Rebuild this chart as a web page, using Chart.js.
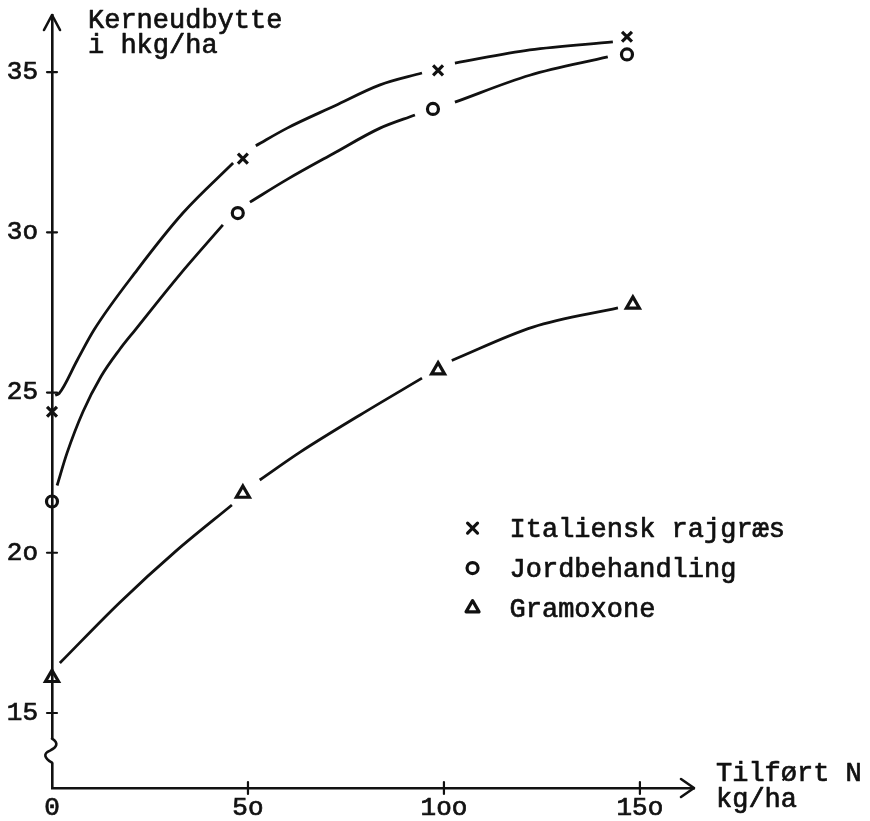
<!DOCTYPE html>
<html>
<head>
<meta charset="utf-8">
<script src="https://cdn.jsdelivr.net/npm/chart.js@4.4.1/dist/chart.umd.min.js"></script>
<style>
  html, body { margin: 0; padding: 0; background: #ffffff; }
  #wrap { width: 870px; height: 821px; }
</style>
</head>
<body>
<div id="wrap"><canvas id="c" width="870" height="821"></canvas></div>
<script>
// ---------- data ----------
const seriesNames = ['Italiensk rajgræs', 'Jordbehandling', 'Gramoxone'];

const yTickValues = [15, 20, 25, 30, 35];
const yTickLabels = ['15', '2o', '25', '3o', '35'];
const xTickValues = [0, 50, 100, 150];
const xTickLabels = ['0', '5o', '1oo', '15o'];

const yTitleLines = ['Kerneudbytte', 'i hkg/ha'];
const xTitleLines = ['Tilført N', 'kg/ha'];

// observed points (markers)
const italienskX = [0, 48.7, 98.5, 146.7];
const italienskY = [24.4, 32.3, 35.05, 36.1];
const jordX = [0, 47.4, 97.2, 146.7];
const jordY = [21.6, 30.6, 33.85, 35.55];
const gramX = [0, 48.7, 98.5, 148.2];
const gramY = [16.1, 21.85, 25.7, 27.75];

// hand-drawn fitted curves; null = gap left around a marker
const italienskCurveX = [0.8, 1.8, 6.4, 10.7, 21.7, 33.4, 46.2, null, 52, 60, 72.2, 83.7, 94.4, null, 102.8, 121.9, 143.1];
const italienskCurveY = [24.92, 24.97, 26.0, 26.95, 28.82, 30.6, 32.16, null, 32.7, 33.25, 33.95, 34.6, 34.97, null, 35.28, 35.69, 35.94];
const jordCurveX = [1.3, 3.8, 7.9, 12.5, 17.3, 21.2, 32.4, 43.6, null, 50.5, 60, 71.7, 83.7, 92.6, null, 102.8, 121.9, 141.8];
const jordCurveY = [22.1, 23.1, 24.4, 25.5, 26.35, 26.95, 28.65, 30.23, null, 30.94, 31.65, 32.45, 33.25, 33.66, null, 34.06, 34.9, 35.47];
const gramCurveX = [2.0, 17.3, 31.6, 45.9, null, 53, 63.3, 78.6, 94.4, null, 102, 122.7, 144.4];
const gramCurveY = [16.56, 18.45, 20.05, 21.49, null, 22.27, 23.14, 24.3, 25.45, null, 26.0, 27.04, 27.64];

// axis extents and the break in the y axis (in data units)
const xRange = [0, 163.8];
const yRange = [12.66, 36.78];
const yAxisBreak = [13.45, 14.2];

// ---------- building ----------
const INK = '#111111';
const FONT = '"Liberation Mono", "Courier New", monospace';

function pts(xs, ys) {
  const out = [];
  let lastX = 0;
  for (let i = 0; i < xs.length; i++) {
    const xv = xs[i] === null ? lastX : xs[i];
    lastX = xv;
    out.push({ x: xv, y: ys[i] });
  }
  return out;
}

function curveDs(xs, ys) {
  return {
    data: pts(xs, ys),
    showLine: true,
    borderColor: INK,
    borderWidth: 2.8,
    pointRadius: 0,
    cubicInterpolationMode: 'monotone',
    spanGaps: false,
    fill: false,
    clip: false,
    isCurve: true
  };
}
function markerDs(label, xs, ys, style, r, bw) {
  return {
    label: label,
    data: pts(xs, ys),
    showLine: false,
    pointStyle: style,
    pointRadius: r,
    pointBorderWidth: bw,
    pointBorderColor: INK,
    pointBackgroundColor: 'rgba(255,255,255,0)',
    borderColor: INK,
    backgroundColor: 'rgba(255,255,255,0)',
    clip: false
  };
}

const datasets = [
  curveDs(italienskCurveX, italienskCurveY),
  curveDs(jordCurveX, jordCurveY),
  curveDs(gramCurveX, gramCurveY),
  markerDs(seriesNames[0], italienskX, italienskY, 'crossRot', 7, 3.2),
  markerDs(seriesNames[1], jordX, jordY, 'circle', 5.5, 3.2),
  markerDs(seriesNames[2], gramX, gramY, 'triangle', 7.5, 3.2)
];

function inkText(ctx, s, x, y) {
  ctx.fillText(s, x, y);
  ctx.strokeText(s, x, y);
}

const decor = {
  id: 'decor',
  afterDraw(chart) {
    const ctx = chart.ctx;
    const a = chart.chartArea;
    const xs = chart.scales.x, ys = chart.scales.y;
    const ax = a.left;
    ctx.save();
    ctx.strokeStyle = INK;
    ctx.fillStyle = INK;
    ctx.lineWidth = 2.6;
    ctx.lineCap = 'round';
    ctx.lineJoin = 'round';

    // y axis break (squiggle)
    const bTop = ys.getPixelForValue(yAxisBreak[1]);
    const bBot = ys.getPixelForValue(yAxisBreak[0]);
    ctx.fillStyle = '#ffffff';
    ctx.fillRect(ax - 4, bTop, 8, bBot - bTop);
    ctx.fillStyle = INK;
    const h = bBot - bTop;
    ctx.beginPath();
    ctx.moveTo(ax, bTop);
    ctx.bezierCurveTo(ax + 7, bTop + h * 0.18, ax + 5, bTop + h * 0.35, ax - 2, bTop + h * 0.5);
    ctx.bezierCurveTo(ax - 9, bTop + h * 0.62, ax - 8, bTop + h * 0.8, ax, bBot);
    ctx.stroke();

    // arrow heads
    ctx.beginPath();
    ctx.moveTo(ax - 8, a.top + 15);
    ctx.lineTo(ax, a.top);
    ctx.lineTo(ax + 8, a.top + 15);
    ctx.stroke();
    ctx.beginPath();
    ctx.moveTo(a.right - 13, a.bottom - 9);
    ctx.lineTo(a.right, a.bottom);
    ctx.lineTo(a.right - 13, a.bottom + 9);
    ctx.stroke();

    // tick marks crossing the axes
    ctx.lineWidth = 2.2;
    yTickValues.forEach(v => {
      const p = ys.getPixelForValue(v);
      ctx.beginPath(); ctx.moveTo(ax - 5, p); ctx.lineTo(ax + 5, p); ctx.stroke();
    });
    xTickValues.forEach(v => {
      if (v === 0) return;
      const p = xs.getPixelForValue(v);
      ctx.beginPath(); ctx.moveTo(p, a.bottom - 6); ctx.lineTo(p, a.bottom + 6); ctx.stroke();
    });

    // axis titles
    ctx.font = '27px ' + FONT;
    ctx.textAlign = 'left';
    ctx.textBaseline = 'alphabetic';
    ctx.lineWidth = 0.7;
    inkText(ctx, yTitleLines[0], ax + 36, a.top + 13);
    inkText(ctx, yTitleLines[1], ax + 36, a.top + 38);
    inkText(ctx, xTitleLines[0], a.right + 22, a.bottom - 7);
    inkText(ctx, xTitleLines[1], a.right + 22, a.bottom + 19);

    // legend inside the plot
    const lx = xs.getPixelForValue(107.3);
    const ly0 = ys.getPixelForValue(20.77);
    const gap = 40;
    const markers = chart.data.datasets.filter(d => !d.isCurve);
    markers.forEach((d, i) => {
      const yy = ly0 + i * gap;
      const opts = {
        pointStyle: d.pointStyle, radius: d.pointRadius, borderWidth: d.pointBorderWidth, rotation: 0
      };
      ctx.strokeStyle = INK;
      ctx.fillStyle = 'rgba(255,255,255,0)';
      ctx.lineWidth = d.pointBorderWidth;
      if (Chart.helpers && Chart.helpers.drawPoint) {
        Chart.helpers.drawPoint(ctx, opts, lx, yy);
      }
      ctx.fillStyle = INK;
      ctx.font = '27px ' + FONT;
      ctx.textBaseline = 'middle';
      ctx.lineWidth = 0.7;
      inkText(ctx, d.label, lx + 37, yy + 2);
    });
    ctx.restore();
  }
};

new Chart(document.getElementById('c'), {
  type: 'line',
  data: { datasets: datasets },
  plugins: [decor],
  options: {
    responsive: false,
    animation: false,
    events: [],
    layout: { padding: { left: 0, top: 15, right: 176, bottom: 0 } },
    plugins: { legend: { display: false }, tooltip: { enabled: false } },
    scales: {
      x: {
        type: 'linear',
        min: xRange[0], max: xRange[1],
        grid: { display: false, drawTicks: false },
        border: { display: true, color: INK, width: 2.6 },
        afterBuildTicks: s => { s.ticks = xTickValues.map(v => ({ value: v })); },
        afterFit: s => { s.height = 33; s.paddingLeft = 0; s.paddingRight = 0; s.paddingTop = 0; s.paddingBottom = 0; },
        ticks: {
          color: INK,
          textStrokeColor: INK,
          textStrokeWidth: 0.7,
          padding: 5,
          font: { family: FONT, size: 26 },
          maxRotation: 0,
          autoSkip: false,
          callback: v => { const i = xTickValues.indexOf(v); return i >= 0 ? xTickLabels[i] : ''; }
        }
      },
      y: {
        type: 'linear',
        min: yRange[0], max: yRange[1],
        grid: { display: false, drawTicks: false },
        border: { display: true, color: INK, width: 2.6 },
        afterBuildTicks: s => { s.ticks = yTickValues.map(v => ({ value: v })); },
        afterFit: s => { s.width = 52; s.paddingTop = 0; s.paddingBottom = 0; s.paddingLeft = 0; s.paddingRight = 0; },
        ticks: {
          color: INK,
          textStrokeColor: INK,
          textStrokeWidth: 0.7,
          padding: 14,
          font: { family: FONT, size: 26 },
          autoSkip: false,
          callback: v => { const i = yTickValues.indexOf(v); return i >= 0 ? yTickLabels[i] : ''; }
        }
      }
    }
  }
});
</script>
</body>
</html>
